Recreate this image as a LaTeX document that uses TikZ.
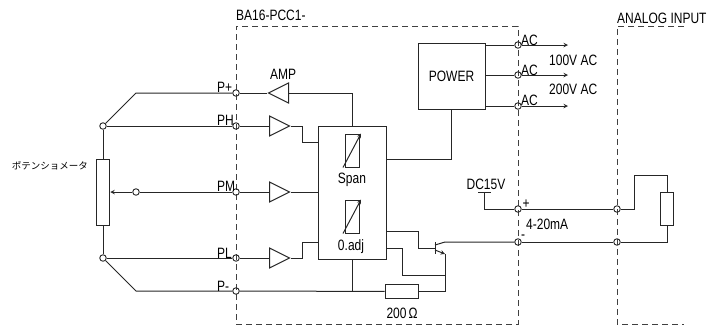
\documentclass[tikz,border=0pt]{standalone}
\usepackage{fontspec}
\setmainfont{Liberation Sans}
\newfontfamily\jpfont{Noto Sans CJK JP}
\usetikzlibrary{shapes.geometric}

\tikzset{
	wire/.style={line width=1pt, black!85},
	border/.style={line width=0.9pt, black!75, dash pattern=on 6pt off 4pt},
	term/.style={circle, draw, line width=0.9pt, black!85, inner sep=0pt, minimum size=6.5pt},
	joint/.style={term, fill=white},
	lab/.style={inner sep=0pt, text=black, font=\fontsize{12}{12}\selectfont, yscale=1.25},
	ampbox/.style={draw, wire, isosceles triangle, isosceles triangle stretches, inner sep=0pt,
		minimum width=20pt, minimum height=20pt, anchor=lower side},
	resbox/.style={draw, wire, rectangle, inner sep=0pt},
}

\begin{document}
\begin{tikzpicture}[x=1pt, y=-1pt]
	\useasboundingbox (0,0) rectangle (715,325);

	%% Dashed outlines of the two units
	\draw [border] (236,324) -- (518,324) -- (518,26) -- (236,26) -- cycle;
	\draw [border] (684,26) -- (617,26) -- (617,324) -- (684,324);

	%% Terminals on the dashed outlines
	\node at (236,93) [term] (tp) {};
	\node at (236,126) [term] (th) {};
	\node at (236,192) [term] (tm) {};
	\node at (236,258) [term] (tl) {};
	\node at (236,291) [term] (tn) {};
	\node at (518,45) [term] (ta) {};
	\node at (518,75) [term] (tb) {};
	\node at (518,106) [term] (tc) {};
	\node at (518,209) [term] (tplus) {};
	\node at (518,242) [term] (tminus) {};
	\node at (617,209) [term] (inplus) {};
	\node at (617,242) [term] (inminus) {};

	%% Potentiometer
	\node at (103,192) [resbox, minimum width=13.5pt, minimum height=66pt] (pot) {};
	\node at (103,126) [joint] (pottop) {};
	\node at (103,258) [joint] (potbot) {};
	\node at (136,192) [joint] (wiper) {};
	\coordinate (ptop) at (136,93);
	\coordinate (pbot) at (136,291);
	\draw [wire] (pottop) -- (pot);
	\draw [wire] (potbot) -- (pot);
	\draw [wire, -stealth] (wiper) -- (pot.east);
	\draw [wire] (wiper) -- (tm);
	\draw [wire] (pottop) -- (th);
	\draw [wire] (potbot) -- (tl);
	\draw [wire] (pottop) -- (ptop) -- (tp);
	\draw [wire] (potbot) -- (pbot) -- (tn);

	%% Amplifiers
	\node at (289,93) [ampbox, shape border rotate=180] (ampp) {};
	\node at (269,126) [ampbox] (amph) {};
	\node at (269,192) [ampbox] (ampm) {};
	\node at (269,258) [ampbox] (ampl) {};
	\draw [wire] (tp) -- (ampp.apex);
	\draw [wire] (th) -- (amph.lower side);
	\draw [wire] (tm) -- (ampm.lower side);
	\draw [wire] (tl) -- (ampl.lower side);

	%% Span and zero block
	\node at (352,192.5) [resbox, minimum width=68pt, minimum height=133pt] (block) {};
	\node at (352,150.5) [resbox, minimum width=14pt, minimum height=33pt] (span) {};
	\node at (352,216.5) [resbox, minimum width=14pt, minimum height=33pt] (zero) {};
	\draw [wire, -stealth] ([xshift=-9pt]span.south) -- ([xshift=9pt]span.north);
	\draw [wire, -stealth] ([xshift=-9pt]zero.south) -- ([xshift=9pt]zero.north);
	\coordinate (ha) at (302,126);
	\coordinate (hb) at (302,142);
	\coordinate (la) at (302,258);
	\coordinate (lb) at (302,242);
	\draw [wire] (ampp.lower side) -- (352,93) -- (block.north);
	\draw [wire] (amph.apex) -- (ha) -- (hb) -- (block.west |- hb);
	\draw [wire] (ampm.apex) -- (block.west |- ampm.apex);
	\draw [wire] (ampl.apex) -- (la) -- (lb) -- (block.west |- lb);

	%% Power supply
	\node at (451.5,76) [resbox, minimum width=67pt, minimum height=66pt] (power) {};
	\node at (power.center) [lab] (powertext) {POWER};
	\coordinate (aout) at (568,45);
	\coordinate (bout) at (568,75);
	\coordinate (cout) at (568,106);
	\draw [wire] (power.south) |- (block.east |- 0,159);
	\draw [wire] (power.east |- ta) -- (ta);
	\draw [wire] (power.east |- tb) -- (tb);
	\draw [wire] (power.east |- tc) -- (tc);
	\draw [wire, -stealth] (ta) -- (aout);
	\draw [wire, -stealth] (tb) -- (bout);
	\draw [wire, -stealth] (tc) -- (cout);

	%% Output transistor and 200 ohm resistor
	\node at (401.5,291.5) [resbox, minimum width=33pt, minimum height=13.5pt] (shunt) {};
	\coordinate (basetop) at (435,242);
	\coordinate (basebot) at (435,254);
	\coordinate (base) at (435,248);
	\coordinate (coll) at (445,242);
	\coordinate (emit) at (445,254);
	\coordinate (sense) at (445,275);
	\coordinate (return) at (445,291.5);
	\draw [wire] (basetop) -- (basebot);
	\draw [wire] (435,245) -- (coll) -- (tminus);
	\draw [wire, -stealth] (435,250) -- (emit);
	\draw [wire] (emit) -- (return) -- (shunt);
	\draw [wire] (emit) -- (sense) -- (402,275) -- (402,248) -- (block.east |- 0,248);
	\draw [wire] (base) -- (418,248) -- (418,231) -- (block.east |- 0,231);
	\draw [wire] (tn) -- (shunt);
	\draw [wire] (block.south) -- (block.south |- shunt);

	%% Loop supply and input resistor
	\node at (667,208.5) [resbox, minimum width=13.5pt, minimum height=33pt] (load) {};
	\coordinate (dcbar) at (484,192);
	\coordinate (dccorner) at (484,209);
	\coordinate (loadup) at (634,209);
	\coordinate (loadtop) at (634,175);
	\draw [wire] (478,192) -- (491,192);
	\draw [wire] (dcbar) -- (dccorner) -- (tplus);
	\draw [wire] (tplus) -- (inplus);
	\draw [wire] (tminus) -- (inminus);
	\draw [wire] (inplus) -- (loadup) -- (loadtop) -- (load.north |- loadtop) -- (load.north);
	\draw [wire] (inminus) -| (load.south);

	%% Labels
	\node at (236,15) [lab, anchor=west] (boxname) {BA16-PCC1-};
	\node at (617,18) [lab, anchor=west] (inputname) {ANALOG INPUT};
	\node at (283,74) [lab] (amptext) {AMP};
	\node at (217,87) [lab, anchor=west] (ptext) {P+};
	\node at (217,120) [lab, anchor=west] (htext) {PH};
	\node at (217,186) [lab, anchor=west] (mtext) {PM};
	\node at (217,253) [lab, anchor=west] (ltext) {PL};
	\node at (217,286) [lab, anchor=west] (ntext) {P-};
	\node at (50,166) [lab, font=\jpfont\fontsize{9.5}{10}\selectfont, yscale=0.8] (pottext) {ポテンショメータ};
	\node at (521,40) [lab, anchor=west] (atext) {AC};
	\node at (521,70) [lab, anchor=west] (btext) {AC};
	\node at (521,100) [lab, anchor=west] (ctext) {AC};
	\node at (549,60) [lab, anchor=west] (vatext) {100V AC};
	\node at (549,89) [lab, anchor=west] (vbtext) {200V AC};
	\node at (352,180) [lab] (spantext) {Span};
	\node at (351,247) [lab] (zerotext) {0.adj};
	\node at (486,184) [lab] (dctext) {DC15V};
	\node at (526,204) [lab] (plustext) {+};
	\node at (523,237) [lab] (minustext) {-};
	\node at (526,224) [lab, anchor=west] (matext) {4-20mA};
	\node at (402,313) [lab] (ohmtext) {200$\,$Ω};
\end{tikzpicture}
\end{document}
